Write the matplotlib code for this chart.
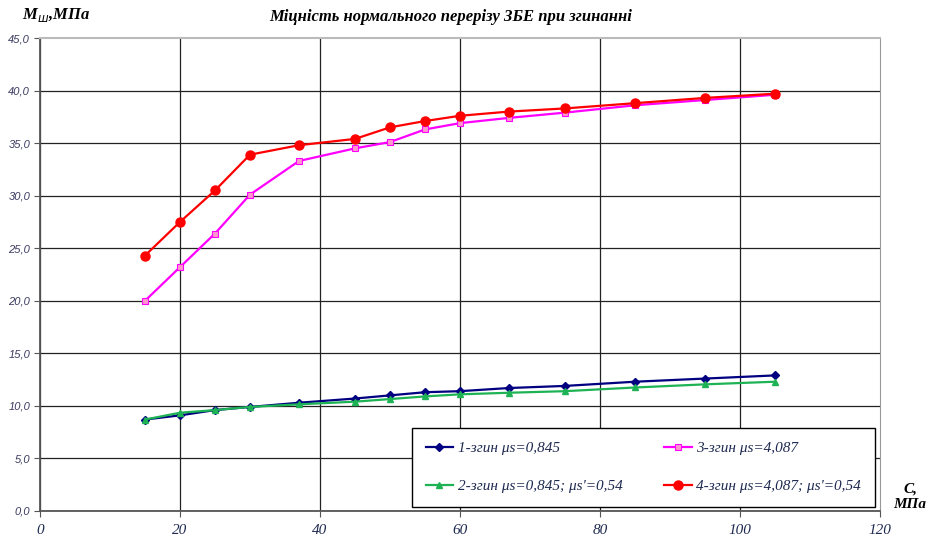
import matplotlib
matplotlib.use('Agg')
from matplotlib import pyplot as plt
from matplotlib.ticker import FuncFormatter

# значення міцності бетону, МПа
c_values = [15, 20, 25, 30, 37, 45, 50, 55, 60, 67, 75, 85, 95, 105]

# серії згинальних моментів
s1 = [8.7, 9.1, 9.6, 9.9, 10.3, 10.7, 11.0, 11.3, 11.4, 11.7, 11.9, 12.3, 12.6, 12.9]
s2 = [8.7, 9.35, 9.6, 9.9, 10.15, 10.4, 10.65, 10.9, 11.1, 11.25, 11.4, 11.75, 12.05, 12.3]
s3 = [20.0, 23.2, 26.4, 30.1, 33.3, 34.5, 35.1, 36.3, 36.9, 37.4, 37.9, 38.6, 39.1, 39.6]
s4 = [24.3, 27.5, 30.5, 33.9, 34.8, 35.4, 36.5, 37.1, 37.6, 38.0, 38.3, 38.8, 39.3, 39.7]

labels = ['1-згин μs=0,845', '2-згин μs=0,845; μs\'=0,54',
          '3-згин μs=4,087', '4-згин μs=4,087; μs\'=0,54']

plt.rcParams['font.family'] = ['Liberation Serif', 'DejaVu Serif']

fig = plt.figure(figsize=(9.28, 5.38), dpi=100)
ax = fig.add_axes([40 / 928, 1 - 511 / 538, 840 / 928, 473 / 538])

ax.plot(c_values, s1, color='#000080', marker='D', markersize=4.5, lw=1.6, label=labels[0])
ax.plot(c_values, s2, color='#1db354', marker='^', markersize=5, lw=1.6, label=labels[1])
ax.plot(c_values, s3, color='#ff00ff', marker='s', markersize=5, lw=1.6,
        markerfacecolor='#ff99cc', markeredgecolor='#ff00ff', markeredgewidth=0.8, label=labels[2])
ax.plot(c_values, s4, color='#ff0000', marker='o', markersize=6.5, lw=1.6, label=labels[3])

ax.set_xlim(0, 120)
ax.set_ylim(0, 45)
ax.set_xticks(range(0, 121, 20))
ax.set_yticks([i * 5 for i in range(10)])
ax.yaxis.set_major_formatter(FuncFormatter(lambda v, p: ('%.1f' % v).replace('.', ',')))
ax.grid(True, color='#222222', lw=0.9)
ax.set_axisbelow(True)
# верхня та права межі світло-сірі
ax.yaxis.get_gridlines()[-1].set_visible(False)
ax.xaxis.get_gridlines()[-1].set_visible(False)
ax.spines['top'].set_color('#bbbbbb')
ax.spines['right'].set_color('#999999')
ax.spines['top'].set_linewidth(1.5)
ax.spines['left'].set_color('#555555')
ax.spines['bottom'].set_color('#555555')
ax.spines['left'].set_linewidth(1.3)
ax.spines['bottom'].set_linewidth(1.3)
ax.tick_params(direction='out', length=4, colors='#555555', pad=3)
ax.tick_params(axis='y', labelsize=8, labelcolor='#3a3a60')
ax.tick_params(axis='x', pad=5, labelsize=11, labelcolor='#1f2a50')
for t in ax.get_yticklabels():
    t.set_family(['Liberation Sans', 'DejaVu Sans'])
    t.set_style('italic')
for t in ax.get_xticklabels():
    t.set_style('italic')

fig.text(451 / 928, 1 - 17 / 538, 'Міцність нормального перерізу ЗБЕ при згинанні',
         ha='center', va='center', fontsize=12, fontweight='bold', style='italic')
fig.text(22 / 928, 1 - 15 / 538, r'M$_{\mathit{ш}}$,МПа', ha='left', va='center',
         fontsize=12, fontweight='bold', style='italic')
fig.text(910 / 928, 1 - 497 / 538, 'C,\nМПа', ha='center', va='center',
         fontsize=11, fontweight='bold', style='italic', linespacing=1.25)

leg = ax.legend(ncol=2, loc='lower left', bbox_to_anchor=(372 / 840, 4 / 473, 463 / 840, 82 / 473),
                mode='expand', fancybox=False, edgecolor='black', framealpha=1,
                prop={'style': 'italic', 'size': 11}, handlelength=1.8, labelspacing=1.6,
                borderpad=0.9, columnspacing=1.0, handletextpad=0.3, borderaxespad=0)
leg.get_frame().set_linewidth(1.0)
for t in leg.get_texts():
    t.set_color('#1f2a50')

fig.savefig('out.png', dpi=100)
